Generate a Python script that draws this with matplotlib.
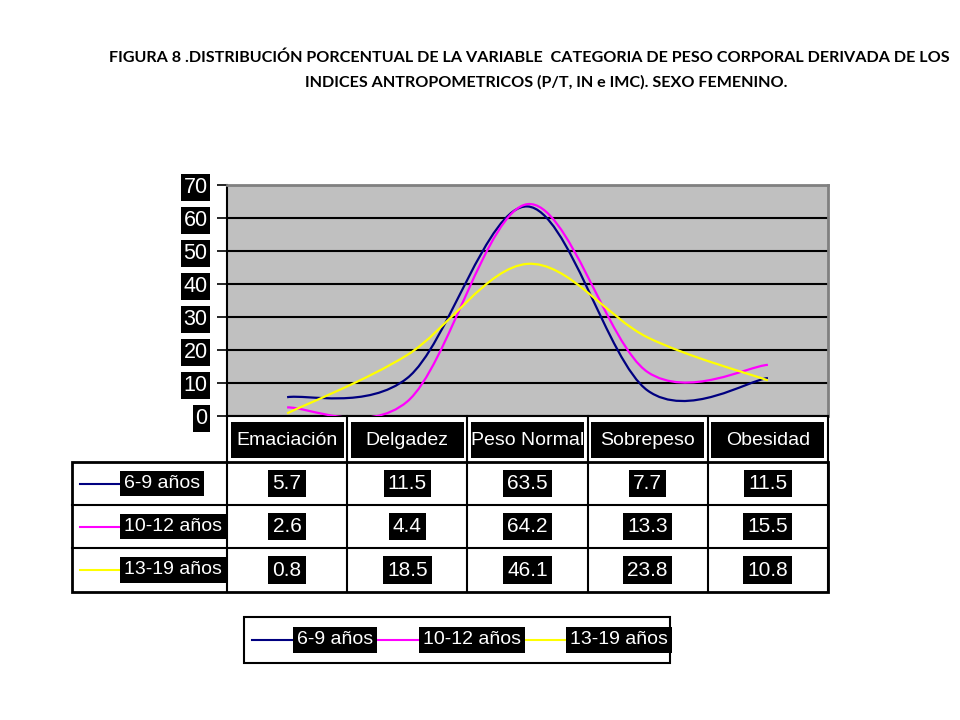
import matplotlib.pyplot as plt
import numpy as np
from matplotlib.path import Path
from matplotlib.patches import PathPatch, Rectangle
from matplotlib.lines import Line2D
import matplotlib.transforms as mtransforms

categorias = ["Emaciación", "Delgadez", "Peso Normal", "Sobrepeso", "Obesidad"]
grupos = ["6-9 años", "10-12 años", "13-19 años"]
v_6_9 = [5.7, 11.5, 63.5, 7.7, 11.5]
v_10_12 = [2.6, 4.4, 64.2, 13.3, 15.5]
v_13_19 = [0.8, 18.5, 46.1, 23.8, 10.8]
colores = ["#000080", "#FF00FF", "#FFFF00"]
yticks = [0, 10, 20, 30, 40, 50, 60, 70]

narrow = ["Liberation Sans", "DejaVu Sans"]
W, H = 960, 720


def fx(px):
    return px / W


def fy(py):
    return 1 - py / H


def curva(y):
    # curva suavizada tipo Excel (bezier por segmentos)
    x = np.arange(len(y), dtype=float)
    y = np.asarray(y, dtype=float)
    p = np.column_stack([x, y])
    pts = [p[0]]
    codes = [Path.MOVETO]
    n = len(p)
    for i in range(n - 1):
        p0 = p[max(i - 1, 0)]
        p1 = p[i]
        p2 = p[i + 1]
        p3 = p[min(i + 2, n - 1)]
        c1 = p1 + (p2 - p0) / 6
        c2 = p2 - (p3 - p1) / 6
        pts += [c1, c2, p2]
        codes += [Path.CURVE4] * 3
    return Path(pts, codes)


fig = plt.figure(figsize=(9.6, 7.2), dpi=100, facecolor="white")

fig.text(fx(529), fy(58), "FIGURA 8 .DISTRIBUCIÓN PORCENTUAL DE LA VARIABLE  CATEGORIA DE PESO CORPORAL DERIVADA DE LOS",
         ha="center", va="center", fontsize=11.6, fontweight="bold", family="Lato")
fig.text(fx(546), fy(82), "INDICES ANTROPOMETRICOS (P/T, IN e IMC). SEXO FEMENINO.",
         ha="center", va="center", fontsize=11.6, fontweight="bold", family="Lato")

ax = fig.add_axes([fx(227), fy(416), fx(828) - fx(227), fy(185) - fy(416)])
ax.set_facecolor("#C0C0C0")
ax.set_xlim(-0.5, 4.5)
ax.set_ylim(0, 70)
ax.set_yticks(yticks)
ax.set_yticklabels([str(t) for t in yticks], color="white", fontsize=15.5, family=narrow)
for lab in ax.get_yticklabels():
    lab.set_bbox(dict(facecolor="black", edgecolor="none", pad=2))
ax.tick_params(axis="y", length=7, width=1.2, color="black", pad=7)
ax.set_xticks([])
ax.grid(axis="y", color="black", lw=1.5)
ax.set_axisbelow(True)
ax.spines["top"].set_color("#808080")
ax.spines["right"].set_color("#808080")
ax.spines["top"].set_linewidth(2)
ax.spines["right"].set_linewidth(2)
ax.spines["left"].set_linewidth(1.5)
ax.spines["bottom"].set_linewidth(1.5)

series = [v_6_9, v_10_12, v_13_19]
for vals, c in zip(series, colores):
    ax.add_patch(PathPatch(curva(vals), facecolor="none", edgecolor=c, lw=1.6, zorder=3))

tr = mtransforms.blended_transform_factory(ax.transData, fig.transFigure)

# separadores de columnas bajo el eje
for b in np.arange(-0.5, 5, 1):
    fig.add_artist(Line2D([b, b], [fy(416), fy(462)], transform=tr, color="black", lw=1.5))

# etiquetas de categoria en cajas negras
for i, cat in enumerate(categorias):
    fig.add_artist(Rectangle((i - 0.47, fy(458)), 0.94, fy(422) - fy(458), transform=tr,
                             facecolor="black", edgecolor="none"))
    fig.text(i, fy(440), cat, transform=tr, ha="center", va="center",
             color="white", fontsize=14, family=narrow)

# tabla de datos
tx0, tx1 = fx(72), fx(828)
filas = [462, 505, 548, 592]
fig.add_artist(Rectangle((tx0, fy(592)), tx1 - tx0, fy(462) - fy(592), transform=fig.transFigure,
                         facecolor="none", edgecolor="black", lw=2))
for r in filas[1:-1]:
    fig.add_artist(Line2D([tx0, tx1], [fy(r), fy(r)], transform=fig.transFigure, color="black", lw=1.5))
for b in np.arange(-0.5, 4.6, 1):
    fig.add_artist(Line2D([b, b], [fy(462), fy(592)], transform=tr, color="black", lw=1.5))

for j, (g, vals, c) in enumerate(zip(grupos, series, colores)):
    yc = fy((filas[j] + filas[j + 1]) / 2)
    fig.add_artist(Line2D([fx(80), fx(120)], [yc, yc], transform=fig.transFigure, color=c, lw=1.5))
    fig.text(fx(124), yc, g, ha="left", va="center", color="white", fontsize=14, family=narrow,
             bbox=dict(facecolor="black", edgecolor="none", pad=3))
    for i, v in enumerate(vals):
        fig.text(i, yc, f"{v:.1f}", transform=tr, ha="center", va="center", color="white",
                 fontsize=15, family=narrow, bbox=dict(facecolor="black", edgecolor="none", pad=3))

# leyenda
fig.add_artist(Rectangle((fx(244), fy(663)), fx(670) - fx(244), fy(617) - fy(663),
                         transform=fig.transFigure, facecolor="white", edgecolor="black", lw=1.5))
ly = fy(640)
lx = [252, 378, 525]
for g, c, x0 in zip(grupos, colores, lx):
    fig.add_artist(Line2D([fx(x0), fx(x0 + 40)], [ly, ly], transform=fig.transFigure, color=c, lw=1.5))
    fig.text(fx(x0 + 45), ly, g, ha="left", va="center", color="white", fontsize=14, family=narrow,
             bbox=dict(facecolor="black", edgecolor="none", pad=3))

fig.savefig("out.png", dpi=100, facecolor="white")
